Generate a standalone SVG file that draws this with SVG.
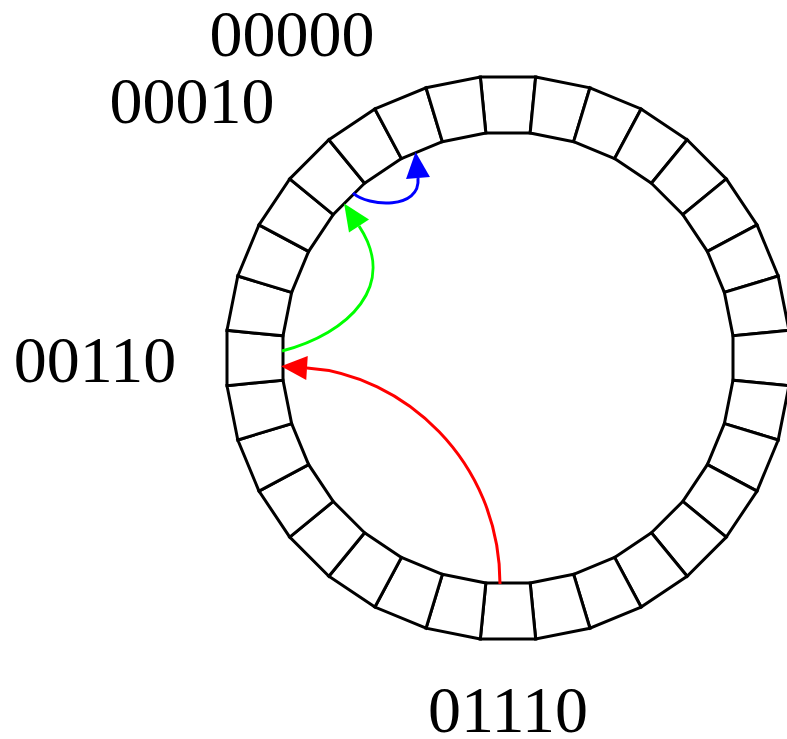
<svg xmlns="http://www.w3.org/2000/svg" xmlns:xlink="http://www.w3.org/1999/xlink" width="787" height="739" viewBox="0 0 787 739">
<style>
.cell{fill:#fff;stroke:#000;stroke-width:3;stroke-linejoin:miter}
.lbl{font-family:"Liberation Serif","Times New Roman",serif;font-size:66px;fill:#000;text-anchor:middle}
.arc{fill:none;stroke-width:3}
</style>
<defs>
<path id="cell" d="M480.32,77 L535.68,77 L530.16,133 L485.84,133 Z"/>
<marker id="ahR" markerUnits="userSpaceOnUse" markerWidth="28" markerHeight="26" refX="0" refY="12" orient="auto" overflow="visible"><path d="M0,0 L26,12 L0,24 Z" fill="#ff0000"/></marker>
<marker id="ahG" markerUnits="userSpaceOnUse" markerWidth="28" markerHeight="26" refX="0" refY="12" orient="auto" overflow="visible"><path d="M0,0 L27,12 L0,24 Z" fill="#00ff00"/></marker>
<marker id="ahB" markerUnits="userSpaceOnUse" markerWidth="28" markerHeight="26" refX="0" refY="12" orient="auto" overflow="visible"><path d="M0,0 L26,12 L0,24 Z" fill="#0000ff"/></marker>
</defs>
<rect width="787" height="739" fill="#fff"/>
<g id="ring">
<use id="cell0" href="#cell" xlink:href="#cell" class="cell" transform="rotate(0 508 358)"/>
<use id="cell1" href="#cell" xlink:href="#cell" class="cell" transform="rotate(11.25 508 358)"/>
<use id="cell2" href="#cell" xlink:href="#cell" class="cell" transform="rotate(22.5 508 358)"/>
<use id="cell3" href="#cell" xlink:href="#cell" class="cell" transform="rotate(33.75 508 358)"/>
<use id="cell4" href="#cell" xlink:href="#cell" class="cell" transform="rotate(45 508 358)"/>
<use id="cell5" href="#cell" xlink:href="#cell" class="cell" transform="rotate(56.25 508 358)"/>
<use id="cell6" href="#cell" xlink:href="#cell" class="cell" transform="rotate(67.5 508 358)"/>
<use id="cell7" href="#cell" xlink:href="#cell" class="cell" transform="rotate(78.75 508 358)"/>
<use id="cell8" href="#cell" xlink:href="#cell" class="cell" transform="rotate(90 508 358)"/>
<use id="cell9" href="#cell" xlink:href="#cell" class="cell" transform="rotate(101.25 508 358)"/>
<use id="cell10" href="#cell" xlink:href="#cell" class="cell" transform="rotate(112.5 508 358)"/>
<use id="cell11" href="#cell" xlink:href="#cell" class="cell" transform="rotate(123.75 508 358)"/>
<use id="cell12" href="#cell" xlink:href="#cell" class="cell" transform="rotate(135 508 358)"/>
<use id="cell13" href="#cell" xlink:href="#cell" class="cell" transform="rotate(146.25 508 358)"/>
<use id="cell14" href="#cell" xlink:href="#cell" class="cell" transform="rotate(157.5 508 358)"/>
<use id="cell15" href="#cell" xlink:href="#cell" class="cell" transform="rotate(168.75 508 358)"/>
<use id="cell16" href="#cell" xlink:href="#cell" class="cell" transform="rotate(180 508 358)"/>
<use id="cell17" href="#cell" xlink:href="#cell" class="cell" transform="rotate(191.25 508 358)"/>
<use id="cell18" href="#cell" xlink:href="#cell" class="cell" transform="rotate(202.5 508 358)"/>
<use id="cell19" href="#cell" xlink:href="#cell" class="cell" transform="rotate(213.75 508 358)"/>
<use id="cell20" href="#cell" xlink:href="#cell" class="cell" transform="rotate(225 508 358)"/>
<use id="cell21" href="#cell" xlink:href="#cell" class="cell" transform="rotate(236.25 508 358)"/>
<use id="cell22" href="#cell" xlink:href="#cell" class="cell" transform="rotate(247.5 508 358)"/>
<use id="cell23" href="#cell" xlink:href="#cell" class="cell" transform="rotate(258.75 508 358)"/>
<use id="cell24" href="#cell" xlink:href="#cell" class="cell" transform="rotate(270 508 358)"/>
<use id="cell25" href="#cell" xlink:href="#cell" class="cell" transform="rotate(281.25 508 358)"/>
<use id="cell26" href="#cell" xlink:href="#cell" class="cell" transform="rotate(292.5 508 358)"/>
<use id="cell27" href="#cell" xlink:href="#cell" class="cell" transform="rotate(303.75 508 358)"/>
<use id="cell28" href="#cell" xlink:href="#cell" class="cell" transform="rotate(315 508 358)"/>
<use id="cell29" href="#cell" xlink:href="#cell" class="cell" transform="rotate(326.25 508 358)"/>
<use id="cell30" href="#cell" xlink:href="#cell" class="cell" transform="rotate(337.5 508 358)"/>
<use id="cell31" href="#cell" xlink:href="#cell" class="cell" transform="rotate(348.75 508 358)"/>
</g>
<g id="connectors">
<path class="arc" stroke="#ff0000" d="M500,584 C500,460 402,374 307,368" marker-end="url(#ahR)"/>
<path class="arc" stroke="#00ff00" d="M282,351 C350,333 398,285 359,226" marker-end="url(#ahG)"/>
<path class="arc" stroke="#0000ff" d="M353,193 C368,207 421,210 418,178" marker-end="url(#ahB)"/>
</g>
<g id="label-00000"><text class="lbl" x="292" y="56">00000</text></g>
<g id="label-00010"><text class="lbl" x="192" y="123">00010</text></g>
<g id="label-00110"><text class="lbl" x="95" y="382">00110</text></g>
<g id="label-01110"><text class="lbl" x="508" y="732">01110</text></g>
</svg>
